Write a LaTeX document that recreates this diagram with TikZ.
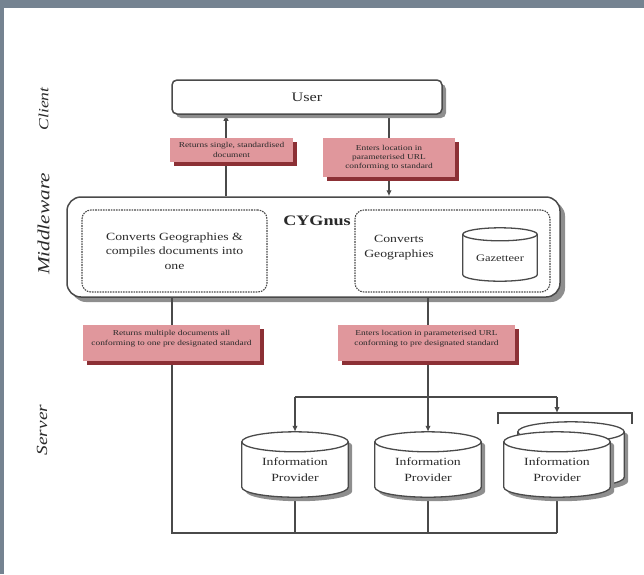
\documentclass[tikz,border=0pt]{standalone}
\usepackage{fontspec}
\setmainfont{Liberation Serif}[FakeStretch=1.25]
\usetikzlibrary{calc,arrows.meta,shadows}
\definecolor{framegrey}{HTML}{758391}
\definecolor{pinkfill}{HTML}{E0979C}
\definecolor{pinkshadow}{HTML}{8C3035}
\definecolor{ink}{HTML}{4A4A4A}
\definecolor{txt}{HTML}{2A2A2A}
\definecolor{shadowgrey}{HTML}{8E8E8E}
\pgfdeclarelayer{bg}
\pgfdeclarelayer{mid}
\pgfsetlayers{bg,mid,main}
\tikzset{
  conn/.style={draw=ink, line width=1.3pt},
  arr/.style={conn, -{Latex[length=6pt,width=5.5pt]}},
  box/.style={draw=ink, line width=1.5pt, fill=white, rounded corners=5pt, text=txt,
    drop shadow={shadow xshift=4pt, shadow yshift=-4pt, fill=shadowgrey, opacity=1}},
  dbox/.style={draw=ink, line width=1.1pt, dash pattern=on 1.6pt off 1pt, rounded corners=9pt, text=txt},
  tag/.style={fill=pinkfill, draw=none, text=txt, align=center, inner sep=0pt,
    font=\fontsize{7.5}{10}\selectfont,
    drop shadow={shadow xshift=4pt, shadow yshift=-4pt, fill=pinkshadow, opacity=1}},
  cylnode/.style={draw=none, inner sep=0pt, text=txt, align=center},
  side/.style={rotate=90, text=txt, font=\itshape},
  cylline/.style={draw=ink, line width=1.3pt},
}
\newcommand\cylpath[2]{let \p1=(#1.north west), \p2=(#1.south east), \n1={(\x2-\x1)/2} in
  (\x1,\y1) -- (\x1,{\y2+#2}) arc[start angle=180,end angle=360,x radius={\n1*1pt},y radius=#2]
  -- (\x2,\y1) arc[start angle=0,end angle=180,x radius={\n1*1pt},y radius=#2] -- cycle}
\newcommand\drawcyl[3]{%
  \fill[#3, transform canvas={shift={(4pt,-4pt)}}] \cylpath{#1}{#2};
  \draw[cylline, fill=white] \cylpath{#1}{#2};
  \draw[cylline] let \p1=(#1.north west), \p2=(#1.north east), \n1={(\x2-\x1)/2} in
    (\x1,\y1) arc[start angle=180,end angle=360,x radius={\n1*1pt},y radius=#2];}
\begin{document}
\begin{tikzpicture}[x=1pt,y=-1pt]
\useasboundingbox (0,0) rectangle (644,574);
\fill[framegrey] (0,0) rectangle (644,8);
\fill[framegrey] (0,0) rectangle (4,574);

% side labels
\node[side, font=\itshape\fontsize{14}{16}\selectfont] (client) at (43.5,109) {Client};
\node[side, font=\itshape\fontsize{17}{19}\selectfont] (middleware) at (43.5,224) {Middleware};
\node[side, font=\itshape\fontsize{15.5}{17}\selectfont] (server) at (42,430) {Server};

% client
\node[box, minimum width=270, minimum height=34, font=\fontsize{13}{15}\selectfont] (user) at (307,97) {User};

\node[tag, minimum width=123, minimum height=24] (lab1) at (231.5,150) {Returns single, standardised\\document};
\node[tag, minimum width=132, minimum height=39, font=\fontsize{7.5}{9}\selectfont] (lab2) at (389,157.5) {Enters location in\\parameterised URL\\conforming to standard};

% middleware
\begin{pgfonlayer}{bg}
\node[box, rounded corners=14pt, minimum width=493, minimum height=100,
  drop shadow={shadow xshift=5pt, shadow yshift=-5pt, fill=shadowgrey, opacity=1}] (mw) at (313.5,247) {};
\end{pgfonlayer}
\node[text=txt, font=\bfseries\fontsize{14.5}{16}\selectfont] (cyg) at (317,221) {CYGnus};
\node[dbox, minimum width=185, minimum height=82, align=center, font=\fontsize{11}{14.5}\selectfont] (conv1) at (174.5,251) {Converts Geographies \&\\compiles documents into\\one};
\node[dbox, minimum width=195, minimum height=82] (conv2) at (452.5,251) {};
\node[text=txt, align=center, font=\fontsize{11}{15}\selectfont] (geo) at (399,247.5) {Converts\\Geographies};
\node[cylnode, minimum width=74, minimum height=46.5, font=\fontsize{10}{12}\selectfont] (gaz) at (500,257.75) {Gazetteer};

% lower tags
\node[tag, minimum width=177, minimum height=36] (lab3) at (171.5,343) {Returns multiple documents all\\conforming to one pre designated standard\\\mbox{}};
\node[tag, minimum width=177, minimum height=36] (lab4) at (426.5,343) {Enters location in parameterised URL\\conforming to pre designated standard\\\mbox{}};

% server
\node[cylnode, minimum width=106, minimum height=55, font=\fontsize{11}{16.5}\selectfont] (ip1) at (295,469.5) {Information\\Provider};
\node[cylnode, minimum width=106, minimum height=55, font=\fontsize{11}{16.5}\selectfont] (ip2) at (428,469.5) {Information\\Provider};
\node[cylnode, minimum width=106, minimum height=55] (ip3b) at (571,459.5) {};
\node[cylnode, minimum width=106, minimum height=55, font=\fontsize{11}{16.5}\selectfont] (ip3) at (557,469.5) {Information\\Provider};

\coordinate (retup) at (226,150);
\coordinate (split) at (428,397);
\coordinate (bot) at (172,533);
\coordinate (bktl) at (498,413);
\coordinate (bktr) at (632,413);

\begin{pgfonlayer}{mid}
\drawcyl{gaz}{6.5pt}{white}
\drawcyl{ip1}{10pt}{shadowgrey}
\drawcyl{ip2}{10pt}{shadowgrey}
\drawcyl{ip3b}{10pt}{shadowgrey}
\drawcyl{ip3}{10pt}{shadowgrey}
\end{pgfonlayer}

\begin{pgfonlayer}{bg}
\draw[arr] (mw.north -| retup) -- (user.south -| retup);
\draw[arr] (user.south -| lab2) -- (mw.north -| lab2);
\draw[arr] (mw.south -| ip2) -- ($(ip2.north)+(0,-10)$);
\draw[conn] (ip1 |- split) -- (ip3 |- split);
\draw[arr] (ip1 |- split) -- ($(ip1.north)+(0,-10)$);
\draw[arr] (ip3 |- split) -- (ip3 |- bktl);
\draw[conn] ($(bktl)+(0,11)$) -- (bktl) -- (bktr) -- ($(bktr)+(0,11)$);
\draw[conn] (mw.south -| bot) -- (bot) -- (bot -| ip3);
\draw[conn] (ip1.south) -- (ip1 |- bot);
\draw[conn] (ip2.south) -- (ip2 |- bot);
\draw[conn] (ip3.south) -- (ip3 |- bot);
\end{pgfonlayer}
\end{tikzpicture}
\end{document}
